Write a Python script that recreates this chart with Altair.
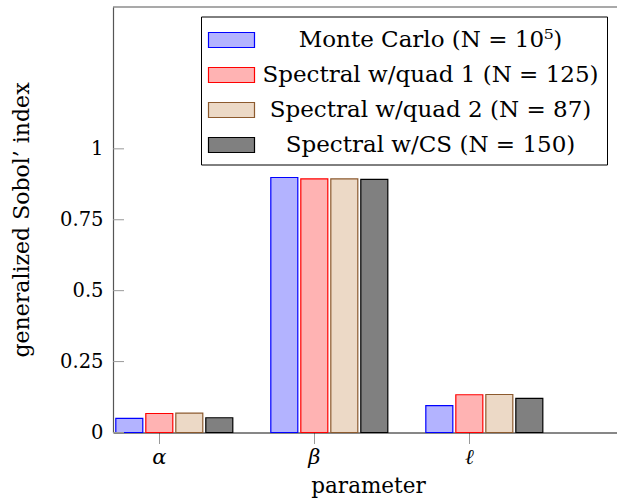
import altair as alt
import pandas as pd

# ---- data ----
params = ["α", "β", "ℓ"]
series = [
    "Monte Carlo (N = 10⁵)",
    "Spectral w/quad 1 (N = 125)",
    "Spectral w/quad 2 (N = 87)",
    "Spectral w/CS (N = 150)",
]
monte_carlo = [0.050, 0.899, 0.095]
spectral_quad1 = [0.067, 0.894, 0.133]
spectral_quad2 = [0.068, 0.894, 0.134]
spectral_cs = [0.052, 0.892, 0.120]
y_tick_values = [0, 0.25, 0.5, 0.75, 1]
y_max = [1.5]

fill_colors = ["#b3b3ff", "#ffb3b3", "#ecd9c6", "#808080"]
stroke_colors = ["#0000ff", "#ff0000", "#8c5a2e", "#000000"]

rows = []
for s, vals in zip(series, [monte_carlo, spectral_quad1, spectral_quad2, spectral_cs]):
    for p, v in zip(params, vals):
        rows.append({"parameter": p, "series": s, "value": v})
df = pd.DataFrame(rows)
ticks_df = pd.DataFrame({"value": y_tick_values})
top_df = pd.DataFrame({"value": y_max})

FONT = "DejaVu Serif"
W, H = 504, 425.5

yscale = alt.Scale(domain=[0, 1.5], nice=False, zero=True)

legend = alt.Legend(
    title=None,
    orient="none",
    legendX=88,
    legendY=9.5,
    padding=7.5,
    symbolType="M-1.0667,-0.5H2V0.5H-1.0667Z",
    symbolSize=900,
    symbolStrokeWidth=1.2,
    symbolOpacity=1,
    labelFont=FONT,
    labelFontSize=23,
    labelColor="#000",
    labelAlign="center",
    labelOffset=190,
    labelLimit=0,
    rowPadding=7,
    strokeColor="#000",
    fillColor="#ffffff",
    cornerRadius=0,
)

bars = alt.Chart(df).mark_bar(strokeWidth=1.2, opacity=1).encode(
    x=alt.X(
        "parameter:N",
        sort=params,
        scale=alt.Scale(domain=params, paddingInner=0.4026, paddingOuter=0.327, align=0),
        axis=alt.Axis(
            title="parameter",
            labelFont=FONT,
            labelFontSize=21,
            labelFontStyle="italic",
            labelColor="#000",
            labelAngle=0,
            labelBaseline="alphabetic",
            labelPadding=19.5,
            tickSize=11,
            tickColor="#999",
            tickWidth=1,
            domainColor="#111",
            domainWidth=1.2,
            titleFont=FONT,
            titleFontSize=21.5,
            titleFontWeight="normal",
            titleColor="#000",
            titleX=255,
            titleY=59.5,
            titleBaseline="alphabetic",
        ),
    ),
    xOffset=alt.XOffset(
        "series:N",
        sort=series,
        scale=alt.Scale(domain=series, range=[1.3, 121.3], paddingInner=0.1, paddingOuter=0.05),
    ),
    y=alt.Y(
        "value:Q",
        scale=yscale,
        axis=alt.Axis(
            title="generalized Sobol’ index",
            values=y_tick_values,
            format="~g",
            ticks=False,
            labelPadding=10,
            labelFont=FONT,
            labelFontSize=19.5,
            labelColor="#000",
            domainColor="#555",
            domainWidth=1.2,
            titleFont=FONT,
            titleFontSize=22,
            titleFontWeight="normal",
            titleColor="#000",
            titleAngle=270,
            titleX=-85,
            titleY=212.5,
            titleBaseline="alphabetic",
            titleAlign="center",
        ),
    ),
    fill=alt.Fill("series:N", sort=series, scale=alt.Scale(domain=series, range=fill_colors), legend=legend),
    stroke=alt.Stroke("series:N", sort=series, scale=alt.Scale(domain=series, range=stroke_colors), legend=legend),
)

inner_ticks = alt.Chart(ticks_df).mark_rule(color="#999", strokeWidth=1).encode(
    y=alt.Y("value:Q", scale=yscale),
    x=alt.value(0),
    x2=alt.value(11),
)

top_line = alt.Chart(top_df).mark_rule(color="#555", strokeWidth=1.2).encode(
    y=alt.Y("value:Q", scale=yscale),
    x=alt.value(0),
    x2=alt.value(W),
)

chart = (
    alt.layer(bars, inner_ticks, top_line)
    .properties(
        width=W,
        height=H,
        padding={"left": 113, "top": 7, "right": 0, "bottom": 67.5},
        autosize=alt.AutoSizeParams(type="none"),
        background="#ffffff",
    )
    .configure_view(stroke=None)
    .configure_axis(grid=False)
)

chart.save("out.html", embed_options={"renderer": "svg", "actions": False})
